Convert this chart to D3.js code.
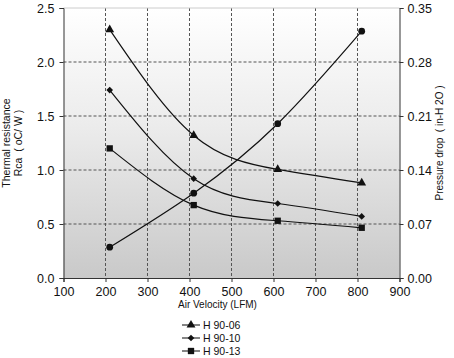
<!DOCTYPE html>
<html>
<head>
<meta charset="utf-8">
<script src="https://cdn.jsdelivr.net/npm/d3@7"></script>
<style>
  body { margin: 0; background: #fff; }
  svg text { font-family: "Liberation Sans", Arial, sans-serif; fill: #111; }
</style>
</head>
<body>
<svg id="chart" width="454" height="358"></svg>
<script>
// data
const airVelocity = [210, 410, 610, 810];
const h9006 = [2.30, 1.32, 1.005, 0.88];
const h9010 = [1.74, 0.92, 0.69, 0.57];
const h9013 = [1.20, 0.675, 0.53, 0.465];
const pressureDrop = [0.04, 0.11, 0.20, 0.32];
const xTicks = [100, 200, 300, 400, 500, 600, 700, 800, 900];
const leftTicks = [0, 0.5, 1.0, 1.5, 2.0, 2.5];
const rightTicks = [0, 0.07, 0.14, 0.21, 0.28, 0.35];
const legendNames = ["H 90-06", "H 90-10", "H 90-13"];

const svg = d3.select("#chart");
const plotL = 63.5, plotR = 399.5, plotT = 8, plotB = 278;

const x = d3.scaleLinear().domain([100, 900]).range([plotL, plotR]);
const y = d3.scaleLinear().domain([0, 2.5]).range([plotB, plotT]);
const y2 = d3.scaleLinear().domain([0, 0.35]).range([plotB, plotT]);

// background gradient
const defs = svg.append("defs");
const grad = defs.append("linearGradient")
  .attr("id", "bg").attr("x1", 0).attr("y1", 0).attr("x2", 0).attr("y2", 1);
grad.append("stop").attr("offset", "0%").attr("stop-color", "#ffffff");
grad.append("stop").attr("offset", "45%").attr("stop-color", "#ebebeb");
grad.append("stop").attr("offset", "100%").attr("stop-color", "#c9c9c9");

svg.append("rect")
  .attr("x", plotL).attr("y", plotT)
  .attr("width", plotR - plotL).attr("height", plotB - plotT)
  .attr("fill", "url(#bg)");

// grid
svg.append("g").selectAll("line").data(xTicks.slice(1, -1)).join("line")
  .attr("x1", d => x(d)).attr("x2", d => x(d))
  .attr("y1", plotT).attr("y2", plotB)
  .attr("stroke", "#555").attr("stroke-dasharray", "3,2");
svg.append("g").selectAll("line").data(leftTicks.slice(1, -1)).join("line")
  .attr("x1", plotL).attr("x2", plotR)
  .attr("y1", d => y(d)).attr("y2", d => y(d))
  .attr("stroke", "#555").attr("stroke-dasharray", "3,2");
svg.append("line")
  .attr("x1", plotL).attr("x2", plotR).attr("y1", plotT).attr("y2", plotT)
  .attr("stroke", "#ccc");

// axes
const xAxis = svg.append("g")
  .attr("transform", "translate(0," + plotB + ")")
  .call(d3.axisBottom(x).tickValues(xTicks).tickSize(4).tickPadding(5));
const yAxis = svg.append("g")
  .attr("transform", "translate(" + plotL + ",0)")
  .call(d3.axisLeft(y).tickValues(leftTicks).tickFormat(d3.format(".1f")).tickSize(4).tickPadding(5));
const y2Axis = svg.append("g")
  .attr("transform", "translate(" + plotR + ",0)")
  .call(d3.axisRight(y2).tickValues(rightTicks).tickFormat(d3.format(".2f")).tickSize(4).tickPadding(4));
[xAxis, yAxis, y2Axis].forEach(g => {
  g.select(".domain").attr("stroke", "#333");
  g.selectAll(".tick line").attr("stroke", "#333");
  g.selectAll("text").style("font-size", "12.5px")
    .style("font-family", "'Liberation Sans', Arial, sans-serif").attr("fill", "#111");
});

// axis titles
svg.append("text")
  .attr("transform", "translate(10," + (plotT + plotB) / 2 + ") rotate(-90)")
  .attr("text-anchor", "middle").style("font-size", "10.5px")
  .text("Thermal resistance");
svg.append("text")
  .attr("transform", "translate(22," + (plotT + plotB) / 2 + ") rotate(-90)")
  .attr("text-anchor", "middle").style("font-size", "10.5px").style("white-space", "pre")
  .text("Rca  ( oC/ W )");
svg.append("text")
  .attr("transform", "translate(443," + (plotT + plotB) / 2 + ") rotate(-90)")
  .attr("text-anchor", "middle").style("font-size", "10px").style("white-space", "pre")
  .text("Pressure drop  ( in-H 2O )");
svg.append("text")
  .attr("x", 178).attr("y", 308).style("font-size", "10px")
  .text("Air Velocity (LFM)");

// series
const line = d3.line().curve(d3.curveNatural);
const series = [
  { vals: h9006, scale: y, sym: d3.symbolTriangle, size: 34, rot: 0 },
  { vals: h9010, scale: y, sym: d3.symbolSquare, size: 22, rot: 45 },
  { vals: pressureDrop, scale: y2, sym: d3.symbolCircle, size: 36, rot: 0 },
  { vals: h9013, scale: y, sym: d3.symbolSquare, size: 40, rot: 0 }
];
const legendSeries = [series[0], series[1], series[3]];
series.forEach(s => {
  const pts = airVelocity.map((v, i) => [x(v), s.scale(s.vals[i])]);
  svg.append("path").attr("d", line(pts))
    .attr("fill", "none").attr("stroke", "#111").attr("stroke-width", 1.2);
  svg.append("g").selectAll("path").data(pts).join("path")
    .attr("transform", d => "translate(" + d[0] + "," + d[1] + ") rotate(" + s.rot + ")")
    .attr("d", d3.symbol().type(s.sym).size(s.size))
    .attr("fill", "#111");
});

// legend
const leg = svg.append("g");
legendNames.forEach((name, i) => {
  const ly = 325 + i * 13;
  const s = legendSeries[i];
  leg.append("line").attr("x1", 182).attr("x2", 200).attr("y1", ly).attr("y2", ly)
    .attr("stroke", "#222").attr("stroke-width", 1.1);
  leg.append("path")
    .attr("transform", "translate(191," + ly + ") rotate(" + s.rot + ")")
    .attr("d", d3.symbol().type(s.sym).size(s.size))
    .attr("fill", "#111");
  leg.append("text").attr("x", 203).attr("y", ly + 4)
    .style("font-size", "10.5px").text(name);
});
</script>
</body>
</html>
